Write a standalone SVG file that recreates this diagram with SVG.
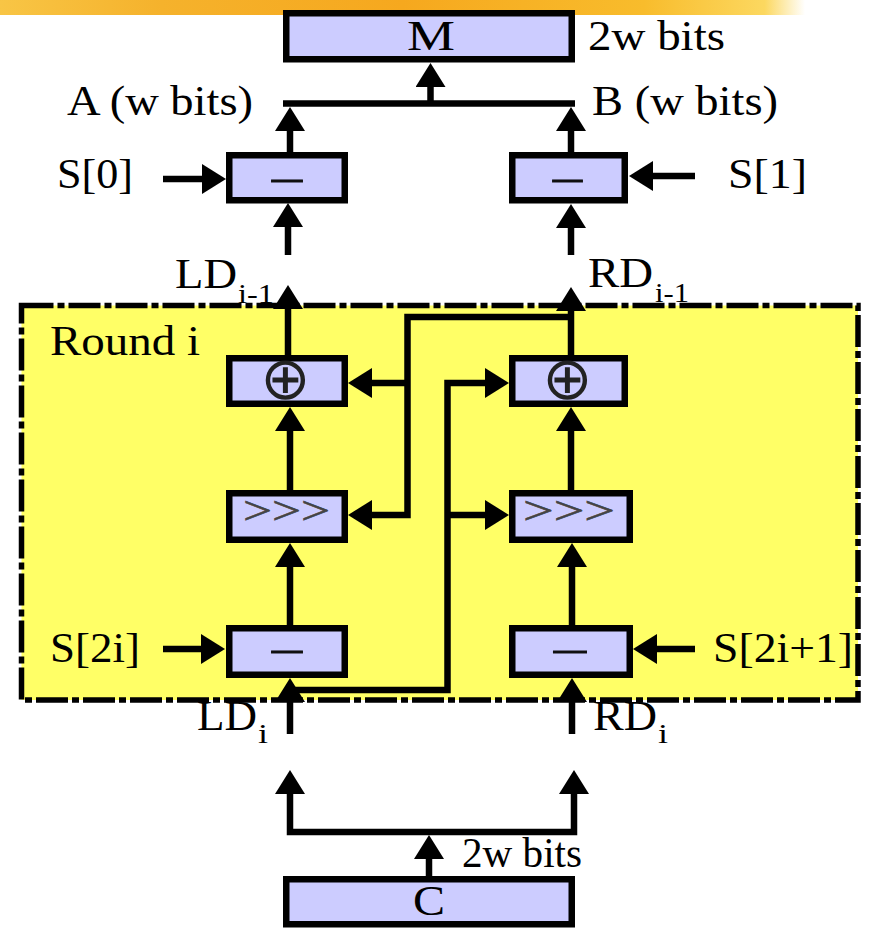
<svg xmlns="http://www.w3.org/2000/svg" width="870" height="928" viewBox="0 0 870 928">
<defs>
<linearGradient id="band" x1="0" y1="0" x2="1" y2="0">
<stop offset="0" stop-color="#F8C545"/>
<stop offset="0.2" stop-color="#F5B22C"/>
<stop offset="0.5" stop-color="#F6A81E"/>
<stop offset="0.8" stop-color="#F8BC2C"/>
<stop offset="0.95" stop-color="#FCD860"/>
<stop offset="1" stop-color="#FFFFFF"/>
</linearGradient>
<marker id="ah" markerUnits="userSpaceOnUse" viewBox="0 0 24 30" refX="18" refY="15" markerWidth="24" markerHeight="30" orient="auto-start-reverse">
<path d="M0,0 L24,15 L0,30 Z" fill="#000"/>
</marker>
<style>
.box{fill:#CCCCFF;stroke:#000;stroke-width:6.5}
.ln{fill:none;stroke:#000;stroke-width:6.5;stroke-linejoin:miter}
.ar{marker-end:url(#ah)}
.t{font-family:"Liberation Serif","Times New Roman",serif;font-size:42px;fill:#000}
.sub{font-family:"Liberation Serif","Times New Roman",serif;font-size:28px;fill:#000}
.op{font-family:"Liberation Serif","Times New Roman",serif;font-size:42px;fill:#111;stroke:#111;stroke-width:0.8}
.xor{font-family:"DejaVu Sans",sans-serif;font-size:60px;fill:#222}
.rot{font-family:"Liberation Serif","Times New Roman",serif;font-size:40px;fill:#444;stroke:#444;stroke-width:0.6}
</style>
</defs>
<rect x="0" y="0" width="805" height="15" fill="url(#band)"/>

<g id="round-i">
<rect x="21.5" y="305.5" width="836.5" height="394.5" fill="#FFFF66" stroke="#000" stroke-width="5.5" stroke-dasharray="32 4 7 4"/>
<text class="t" x="50" y="355" textLength="150" lengthAdjust="spacingAndGlyphs">Round i</text>
</g>

<g id="connectors">
<path class="ln ar" d="M429,876 L429,841"/>
<path class="ln" d="M290,776 L290,832 L574,832 L574,776" marker-start="url(#ah)" marker-end="url(#ah)"/>
<path class="ln ar" d="M290,734 L290,684"/>
<path class="ln ar" d="M572,734 L572,684"/>
<path class="ln ar" d="M290,625 L290,549"/>
<path class="ln ar" d="M572,625 L572,549"/>
<path class="ln ar" d="M290,490 L290,413"/>
<path class="ln ar" d="M571,490 L571,413"/>
<path class="ln ar" d="M288,355 L288,291"/>
<path class="ln ar" d="M571,355 L571,293"/>
<path class="ln ar" d="M288,255 L288,209"/>
<path class="ln ar" d="M571,255 L571,210"/>
<path class="ln ar" d="M290,152 L290,113"/>
<path class="ln ar" d="M571,152 L571,113"/>
<path class="ln" d="M283,103.5 L575,103.5"/>
<path class="ln ar" d="M430.5,103.5 L430.5,69"/>
<path class="ln ar" d="M163,179 L220,179"/>
<path class="ln ar" d="M695,176 L635,176"/>
<path class="ln ar" d="M163,649 L219,649"/>
<path class="ln ar" d="M695,649 L639,649"/>
<path class="ln ar" d="M571,317 L407.5,317 L407.5,515 L354,515"/>
<path class="ln ar" d="M407.5,383 L354,383"/>
<path class="ln ar" d="M290,690 L447.5,690 L447.5,383 L503,383"/>
<path class="ln ar" d="M447.5,515 L503,515"/>
</g>

<g id="node-M">
<rect class="box" x="286.25" y="13.25" width="285.5" height="46"/>
<text class="t" x="407" y="50" font-size="44" textLength="48" lengthAdjust="spacingAndGlyphs">M</text>
</g>
<g id="node-C">
<rect class="box" x="286.25" y="879.25" width="285.5" height="45"/>
<text class="t" x="413" y="915" font-size="44" textLength="32" lengthAdjust="spacingAndGlyphs">C</text>
</g>
<g id="node-sub-left-top">
<rect class="box" x="229.25" y="155.25" width="115.5" height="45"/>
<text class="op" x="272" y="191" textLength="30" lengthAdjust="spacingAndGlyphs">–</text>
</g>
<g id="node-sub-right-top">
<rect class="box" x="512.25" y="155.25" width="112.5" height="45"/>
<text class="op" x="553" y="191" textLength="29" lengthAdjust="spacingAndGlyphs">–</text>
</g>
<g id="node-xor-left">
<rect class="box" x="229.25" y="358.25" width="115.5" height="45.5"/>
<text class="xor" x="285.5" y="399" text-anchor="middle">⊕</text>
</g>
<g id="node-xor-right">
<rect class="box" x="512.25" y="358.25" width="112.5" height="45.5"/>
<text class="xor" x="567.5" y="399" text-anchor="middle">⊕</text>
</g>
<g id="node-rot-left">
<rect class="box" x="229.25" y="493.25" width="115.5" height="46.5"/>
<text class="rot" x="243" y="524" textLength="87" lengthAdjust="spacingAndGlyphs">&gt;&gt;&gt;</text>
</g>
<g id="node-rot-right">
<rect class="box" x="512.25" y="493.25" width="117.5" height="46.5"/>
<text class="rot" x="523" y="524" textLength="92" lengthAdjust="spacingAndGlyphs">&gt;&gt;&gt;</text>
</g>
<g id="node-sub-left-bottom">
<rect class="box" x="229.25" y="628.25" width="115.5" height="46.5"/>
<text class="op" x="272" y="662" textLength="30" lengthAdjust="spacingAndGlyphs">–</text>
</g>
<g id="node-sub-right-bottom">
<rect class="box" x="512.25" y="628.25" width="117.5" height="46.5"/>
<text class="op" x="554" y="662" textLength="32" lengthAdjust="spacingAndGlyphs">–</text>
</g>

<g id="labels">
<text class="t" x="588" y="50" textLength="137" lengthAdjust="spacingAndGlyphs">2w bits</text>
<text class="t" x="67" y="115" textLength="186" lengthAdjust="spacingAndGlyphs">A (w bits)</text>
<text class="t" x="592" y="115" textLength="186" lengthAdjust="spacingAndGlyphs">B (w bits)</text>
<text class="t" x="57" y="188" textLength="76" lengthAdjust="spacingAndGlyphs">S[0]</text>
<text class="t" x="728" y="188" textLength="79" lengthAdjust="spacingAndGlyphs">S[1]</text>
<text class="t" x="175" y="288" textLength="62" lengthAdjust="spacingAndGlyphs">LD</text>
<text class="sub" x="238" y="303" textLength="36" lengthAdjust="spacingAndGlyphs">i-1</text>
<text class="t" x="588" y="287" textLength="65" lengthAdjust="spacingAndGlyphs">RD</text>
<text class="sub" x="655" y="302" textLength="34" lengthAdjust="spacingAndGlyphs">i-1</text>
<text class="t" x="50" y="662" textLength="90" lengthAdjust="spacingAndGlyphs">S[2i]</text>
<text class="t" x="713" y="662" textLength="140" lengthAdjust="spacingAndGlyphs">S[2i+1]</text>
<text class="t" x="197" y="730" textLength="60" lengthAdjust="spacingAndGlyphs">LD</text>
<text class="sub" x="258" y="743" textLength="10" lengthAdjust="spacingAndGlyphs">i</text>
<text class="t" x="593" y="730" textLength="64" lengthAdjust="spacingAndGlyphs">RD</text>
<text class="sub" x="658" y="743" textLength="10" lengthAdjust="spacingAndGlyphs">i</text>
<text class="t" x="462" y="867" textLength="120" lengthAdjust="spacingAndGlyphs">2w bits</text>
</g>
</svg>
